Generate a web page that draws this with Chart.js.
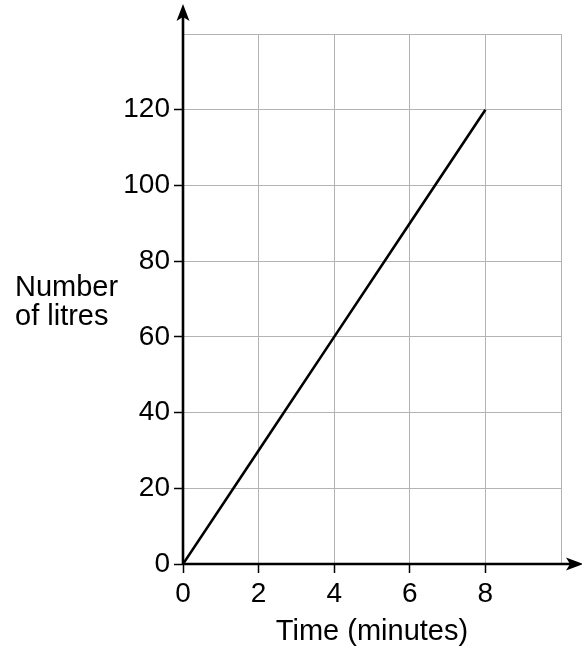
<!DOCTYPE html>
<html>
<head>
<meta charset="utf-8">
<script src="https://cdn.jsdelivr.net/npm/chart.js@4"></script>
<style>
  html, body { margin: 0; padding: 0; background: #fff; }
  #wrap { width: 582px; height: 650px; }
</style>
</head>
<body>
<div id="wrap"><canvas id="chart" width="582" height="650"></canvas></div>
<script>
// ── Dados ────────────────────────────────────────────────────
const times  = [0, 2, 4, 6, 8];          // minutes
const litres = [0, 30, 60, 90, 120];     // number of litres
const xTicks = [0, 2, 4, 6, 8];          // labelled x ticks
const yTicks = [0, 20, 40, 60, 80, 100, 120];
const xMax = 10, yMax = 140;

const FONT = 'Arial, "Liberation Sans", sans-serif';

// eixos com setas + título do eixo y na horizontal
const axesPlugin = {
    id: 'axesArrows',
    afterDraw(chart) {
        const { ctx, scales: { x, y } } = chart;
        const x0 = x.getPixelForValue(0), y0 = y.getPixelForValue(0);
        const xEnd = x.getPixelForValue(xMax) + 20;
        const yEnd = y.getPixelForValue(yMax) - 28;
        ctx.save();
        ctx.strokeStyle = '#000'; ctx.fillStyle = '#000';
        ctx.lineWidth = 2.6;
        ctx.beginPath();
        ctx.moveTo(x0, y0); ctx.lineTo(xEnd - 4, y0);
        ctx.moveTo(x0, y0); ctx.lineTo(x0, yEnd + 4);
        ctx.stroke();
        // ponta y
        ctx.beginPath();
        ctx.moveTo(x0, yEnd - 2);
        ctx.lineTo(x0 + 6.5, yEnd + 15);
        ctx.lineTo(x0, yEnd + 11);
        ctx.lineTo(x0 - 6.5, yEnd + 15);
        ctx.closePath(); ctx.fill();
        // ponta x
        ctx.beginPath();
        ctx.moveTo(xEnd + 2, y0);
        ctx.lineTo(xEnd - 15, y0 - 6.5);
        ctx.lineTo(xEnd - 11, y0);
        ctx.lineTo(xEnd - 15, y0 + 6.5);
        ctx.closePath(); ctx.fill();
        // título y
        ctx.font = '29px ' + FONT;
        ctx.textAlign = 'left'; ctx.textBaseline = 'alphabetic';
        ctx.fillText('Number', 15, 296);
        ctx.fillText('of litres', 15, 325);
        ctx.restore();
    }
};

new Chart(document.getElementById('chart'), {
    type: 'line',
    data: {
        datasets: [{
            data: times.map((t, i) => ({ x: t, y: litres[i] })),
            borderColor: '#000',
            borderWidth: 2.6,
            pointRadius: 0,
            tension: 0,
        }]
    },
    options: {
        responsive: false, animation: false,
        layout: { padding: { top: 34, right: 21, left: 0, bottom: 0 } },
        plugins: { legend: { display: false }, tooltip: { enabled: false } },
        scales: {
            x: {
                type: 'linear', min: 0, max: xMax,
                afterFit: s => { s.height = 86; },
                afterBuildTicks: s => { s.ticks = [...xTicks, xMax].map(v => ({ value: v })); },
                grid: {
                    color: '#b3b3b3', lineWidth: 1, tickLength: 9,
                    tickColor: c => (c.tick && c.tick.value === xMax) ? 'rgba(0,0,0,0)' : '#000',
                    tickWidth: 1.5,
                },
                border: { display: false },
                ticks: {
                    color: '#000', padding: 4, maxRotation: 0,
                    font: { size: 28, family: FONT },
                    callback: v => xTicks.includes(v) ? String(v) : '',
                },
                title: {
                    display: true, text: 'Time (minutes)', color: '#000',
                    font: { size: 29, family: FONT },
                    padding: { top: 2, bottom: 1 },
                },
            },
            y: {
                type: 'linear', min: 0, max: yMax,
                afterFit: s => { s.width = 183; },
                afterBuildTicks: s => { s.ticks = [...yTicks, yMax].map(v => ({ value: v })); },
                grid: {
                    color: '#b3b3b3', lineWidth: 1, tickLength: 9,
                    tickColor: c => (c.tick && c.tick.value === yMax) ? 'rgba(0,0,0,0)' : '#000',
                    tickWidth: 1.5,
                },
                border: { display: false },
                ticks: {
                    color: '#000', padding: 4,
                    font: { size: 28, family: FONT },
                    callback: v => yTicks.includes(v) ? String(v) : '',
                },
            },
        },
    },
    plugins: [axesPlugin],
});
</script>
</body>
</html>
